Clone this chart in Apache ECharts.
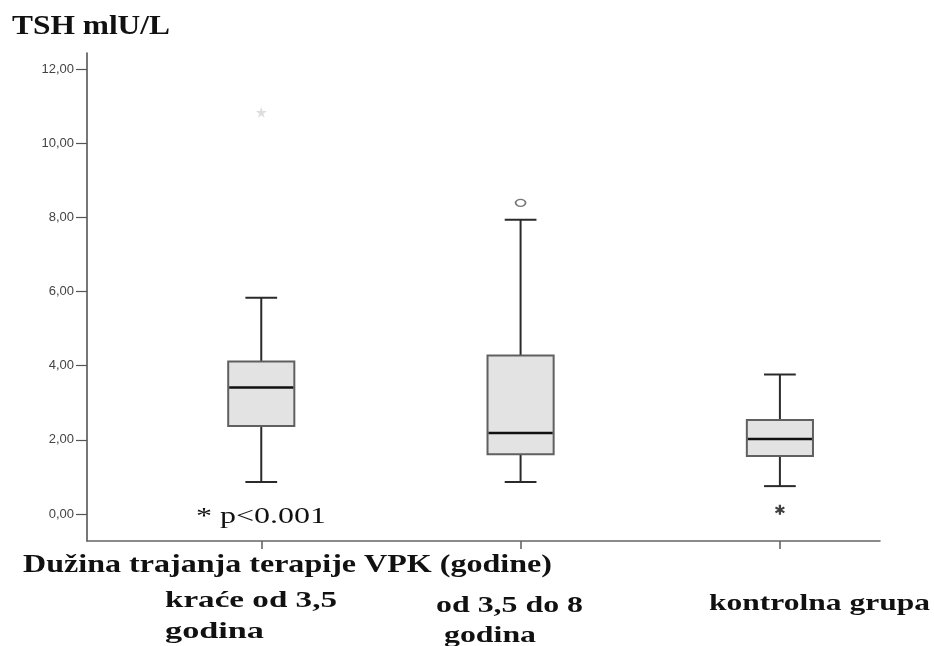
<!DOCTYPE html>
<html>
<head>
<meta charset="utf-8">
<script src="https://cdn.jsdelivr.net/npm/echarts@6/dist/echarts.min.js"></script>
<style>
  html, body { margin: 0; padding: 0; background: #ffffff; }
  #chart { width: 934px; height: 646px; }
</style>
</head>
<body>
<div id="chart"></div>
<script>
// Groups of VPA therapy duration and the control group
const categories = ['kraće od 3,5', 'od 3,5 do 8', 'kontrolna grupa'];
const categorySecondLine = ['godina', 'godina', ''];
const positions = [1, 2, 3];

// TSH (mIU/L) box statistics per group
const whiskerLow  = [0.86, 0.86, 0.75];
const quartile1   = [2.37, 1.61, 1.56];
const medians     = [3.41, 2.18, 2.02];
const quartile3   = [4.11, 4.27, 2.53];
const whiskerHigh = [5.83, 7.93, 3.76];

// Extreme values (asterisks) and outliers (circles)
const extremeValues = [10.83, null, 0.11];
const outlierValues = [null, 8.39, null];

// Value axis tick labels
const yTicks = [0, 2, 4, 6, 8, 10, 12];

const axisTitle = 'TSH mlU/L';
const groupTitle = 'Dužina trajanja terapije VPK (godine)';
const pNote = '* p<0.001';

const boxData = positions.map((p, i) => [p, whiskerLow[i], quartile1[i], medians[i], quartile3[i], whiskerHigh[i]]);

const starPath = 'path://M50,0 L61,35 L98,35 L68,57 L79,91 L50,70 L21,91 L32,57 L2,35 L39,35 Z';
const asteriskPath = 'path://M3.9,0 L6.1,0 L6.1,10 L3.9,10 Z M0.12,3.45 L1.22,1.55 L9.88,6.55 L8.78,8.45 Z M8.78,1.55 L9.88,3.45 L1.22,8.45 L0.12,6.55 Z';

const extremeData = [];
extremeValues.forEach((v, i) => {
  if (v === null) return;
  extremeData.push(i === 0
    ? { value: [positions[i], v], symbol: starPath, symbolSize: 11, itemStyle: { color: '#d6d6d6' } }
    : { value: [positions[i], v], symbol: asteriskPath, symbolSize: 10, itemStyle: { color: '#111111' } });
});
const outlierData = [];
outlierValues.forEach((v, i) => { if (v !== null) outlierData.push([positions[i], v]); });

// Text helper: serif labels are drawn slightly widened to a given width
const measureCtx = document.createElement('canvas').getContext('2d');
const serif = '"Liberation Serif", "Times New Roman", serif';
function wideText(text, font, x, y, width) {
  measureCtx.font = font;
  const w = measureCtx.measureText(text).width || width;
  return { type: 'text', x: x, y: y, scaleX: width / w, style: { text: text, font: font, fill: '#111111' } };
}

const chart = echarts.init(document.getElementById('chart'), null, { renderer: 'canvas' });

const labelFont = 'bold 23px ' + serif;

const option = {
  animation: false,
  backgroundColor: '#ffffff',
  grid: { left: 87, right: 54, top: 53, bottom: 105, containLabel: false },
  xAxis: {
    type: 'value',
    min: 0.328,
    max: 3.386,
    axisLine: { show: true, onZero: false, lineStyle: { color: '#666666', width: 1.6 } },
    axisTick: { show: true, customValues: positions, length: 8, lineStyle: { color: '#666666', width: 1.6 } },
    axisLabel: { show: false },
    splitLine: { show: false }
  },
  yAxis: {
    type: 'value',
    min: -0.73,
    max: 12.43,
    axisLine: { show: true, lineStyle: { color: '#555555', width: 1.6 } },
    axisTick: { show: true, customValues: yTicks, length: 11, lineStyle: { color: '#555555', width: 1.2 } },
    axisLabel: {
      show: true,
      customValues: yTicks,
      margin: 13,
      fontFamily: '"Liberation Sans", Arial, sans-serif',
      fontSize: 13,
      color: '#444444',
      formatter: v => v.toFixed(2).replace('.', ',')
    },
    splitLine: { show: false }
  },
  series: [
    {
      type: 'custom',
      name: 'TSH',
      data: boxData,
      encode: { x: 0, y: [1, 2, 3, 4, 5] },
      renderItem: function (params, api) {
        const x = api.value(0);
        const low = api.coord([x, api.value(1)]);
        const q1 = api.coord([x, api.value(2)]);
        const med = api.coord([x, api.value(3)]);
        const q3 = api.coord([x, api.value(4)]);
        const high = api.coord([x, api.value(5)]);
        const boxW = api.size([0.255, 0])[0];
        const capW = boxW * 0.48;
        const cx = med[0];
        const lineStyle = { stroke: '#2a2a2a', lineWidth: 2 };
        return {
          type: 'group',
          children: [
            { type: 'line', shape: { x1: cx, y1: q3[1], x2: cx, y2: high[1] }, style: lineStyle },
            { type: 'line', shape: { x1: cx, y1: q1[1], x2: cx, y2: low[1] }, style: lineStyle },
            { type: 'line', shape: { x1: cx - capW / 2, y1: high[1], x2: cx + capW / 2, y2: high[1] }, style: lineStyle },
            { type: 'line', shape: { x1: cx - capW / 2, y1: low[1], x2: cx + capW / 2, y2: low[1] }, style: lineStyle },
            {
              type: 'rect',
              shape: { x: cx - boxW / 2, y: q3[1], width: boxW, height: q1[1] - q3[1] },
              style: { fill: '#e3e3e3', stroke: '#606060', lineWidth: 2 }
            },
            { type: 'line', shape: { x1: cx - boxW / 2 + 1, y1: med[1], x2: cx + boxW / 2 - 1, y2: med[1] }, style: { stroke: '#111111', lineWidth: 2.5 } }
          ]
        };
      }
    },
    {
      type: 'scatter',
      name: 'extremes',
      data: extremeData,
      z: 5
    },
    {
      type: 'scatter',
      name: 'outliers',
      data: outlierData,
      symbol: 'circle',
      symbolSize: [10, 7],
      itemStyle: { color: '#ffffff', borderColor: '#555555', borderWidth: 1.5 },
      z: 5
    }
  ],
  graphic: [
    wideText(axisTitle, 'bold 27px ' + serif, 12, 14, 158),
    wideText(pNote, '24px ' + serif, 196, 505, 130),
    wideText(groupTitle, 'bold 25px ' + serif, 23, 553, 529),
    wideText(categories[0], labelFont, 165, 590, 172),
    wideText(categorySecondLine[0], labelFont, 165, 621, 99),
    wideText(categories[1], labelFont, 436, 595, 147),
    wideText(categorySecondLine[1], labelFont, 444, 625, 92),
    wideText(categories[2], labelFont, 709, 593, 221)
  ]
};

chart.setOption(option);
</script>
</body>
</html>
